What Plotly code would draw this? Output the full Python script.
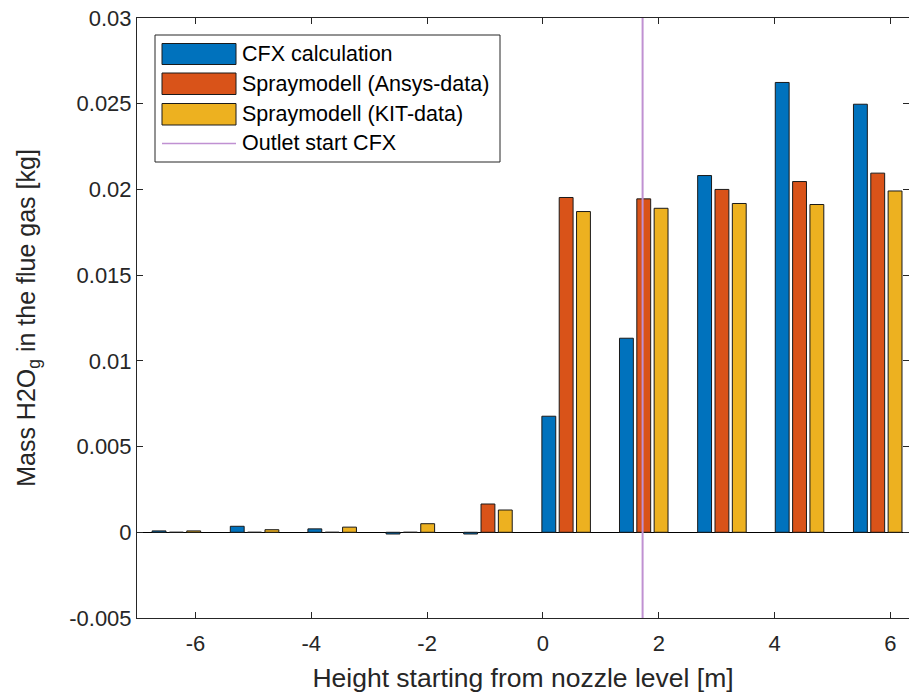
import plotly.graph_objects as go

heights = [-6.33, -4.98, -3.64, -2.29, -0.95, 0.40, 1.74, 3.09, 4.43, 5.78]
cfx = [0.00008, 0.00035, 0.0002, -0.0001, -0.0001, 0.00677, 0.01132, 0.02081, 0.02624, 0.02497]
ansys = [0.0, 0.0, 0.0, 0.0, 0.00165, 0.01953, 0.01945, 0.02000, 0.02046, 0.02095]
kit = [0.00008, 0.00015, 0.0003, 0.0005, 0.0013, 0.01871, 0.0189, 0.01918, 0.01912, 0.01991]
outlet_x = 1.72
series_names = ["CFX calculation", "Spraymodell (Ansys-data)", "Spraymodell (KIT-data)"]
line_name = "Outlet start CFX"
colors = ["#0072BD", "#D95319", "#EDB120"]
line_color = "rgb(192,145,210)"
x_ticks = [-6, -4, -2, 0, 2, 4, 6]
x_tick_text = ["-6", "-4", "-2", "0", "2", "4", "6"]
y_ticks = [-0.005, 0, 0.005, 0.01, 0.015, 0.02, 0.025, 0.03]
y_tick_text = ["-0.005", "0", "0.005", "0.01", "0.015", "0.02", "0.025", "0.03"]

FONT = "Liberation Sans, Arial, sans-serif"
TXT = "#262626"

fig = go.Figure()
for name, vals, c in zip(series_names, [cfx, ansys, kit], colors):
    fig.add_trace(go.Bar(x=heights, y=vals, name=name, marker=dict(color=c, line=dict(color="#1a1a1a", width=1)),
                         showlegend=False))
fig.add_trace(go.Scatter(x=[outlet_x, outlet_x], y=[y_ticks[0], y_ticks[-1]], mode="lines",
                         line=dict(color=line_color, width=2), name=line_name, showlegend=False))

W, H = 909, 693
L, R, T, B = 137, 0, 18, 75
pw, ph = W - L - R, H - T - B

def px(x):
    return (x - L) / pw

def py(y):
    return (H - B - y) / ph

shapes = []
annotations = []
# legend box
shapes.append(dict(type="rect", xref="paper", yref="paper", x0=px(155), x1=px(500), y0=py(162), y1=py(35),
                   line=dict(color=TXT, width=1), fillcolor="white", layer="above"))
rows = [(43.5, 64.5), (73, 94.5), (103.5, 125)]
for (y0, y1), c, name in zip(rows, colors, series_names):
    shapes.append(dict(type="rect", xref="paper", yref="paper", x0=px(162), x1=px(236), y0=py(y1), y1=py(y0),
                       line=dict(color="#1a1a1a", width=1), fillcolor=c, layer="above"))
    annotations.append(dict(xref="paper", yref="paper", x=px(240), y=py((y0 + y1) / 2), text=name,
                            showarrow=False, xanchor="left", yanchor="middle",
                            font=dict(family=FONT, size=21.5, color="#000000")))
shapes.append(dict(type="line", xref="paper", yref="paper", x0=px(162), x1=px(236), y0=py(143.5), y1=py(143.5),
                   line=dict(color=line_color, width=1.5), layer="above"))
annotations.append(dict(xref="paper", yref="paper", x=px(240), y=py(143.5), text=line_name,
                        showarrow=False, xanchor="left", yanchor="middle",
                        font=dict(family=FONT, size=21.5, color="#000000")))

fig.update_layout(
    width=W, height=H,
    margin=dict(l=L, r=R, t=T, b=B),
    plot_bgcolor="white", paper_bgcolor="white",
    barmode="group", bargap=0.33, bargroupgap=0.2,
    font=dict(family=FONT, color=TXT),
    shapes=shapes, annotations=annotations,
    showlegend=False,
)
fig.update_xaxes(range=[-7.01, 6.32], tickvals=x_ticks, ticktext=x_tick_text, ticks="inside", ticklen=6,
                 tickcolor=TXT, ticklabelstandoff=6,
                 showline=True, linecolor=TXT, linewidth=1, mirror="ticks", showgrid=False, zeroline=False,
                 tickfont=dict(family=FONT, size=22, color=TXT), automargin=False,
                 title=dict(text="Height starting from nozzle level [m]", font=dict(family=FONT, size=26.5, color=TXT),
                            standoff=13))
fig.update_yaxes(range=[-0.005, 0.03], tickvals=y_ticks, ticktext=y_tick_text, ticks="inside", ticklen=6,
                 tickcolor=TXT, showline=True, linecolor=TXT, linewidth=1, mirror="ticks", showgrid=False,
                 zeroline=True, zerolinecolor="#000000", zerolinewidth=1, automargin=False,
                 tickfont=dict(family=FONT, size=22, color=TXT),
                 title=dict(text="Mass H2O<sub>g</sub> in the flue gas [kg]", font=dict(family=FONT, size=25, color=TXT),
                            standoff=26))

fig.write_html("out.html")
